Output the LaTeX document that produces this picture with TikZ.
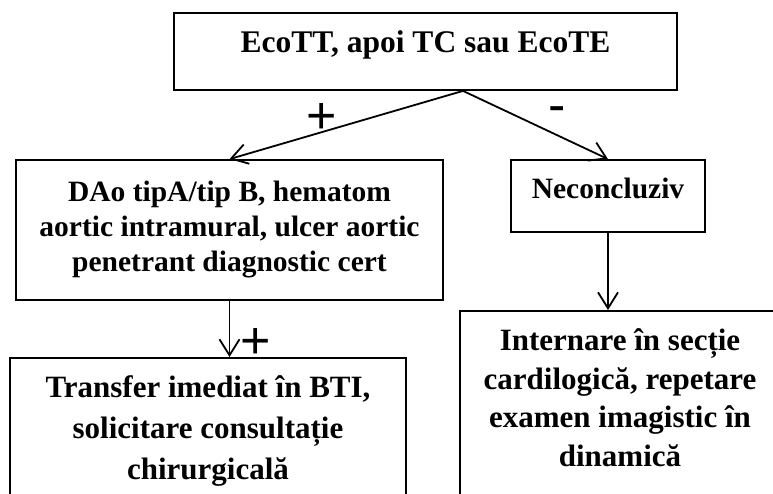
\documentclass[tikz,border=0pt]{standalone}
\usepackage{fontspec}
\setmainfont{Liberation Serif}
\newfontfamily\signfont{Liberation Sans}
\usetikzlibrary{arrows.meta}

\begin{document}
\begin{tikzpicture}[x=1pt,y=-1pt]
\tikzstyle{box}=[draw,line width=1.8pt,inner sep=0pt]
\tikzstyle{arr}=[line width=1.8pt,-{Straight Barb[length=16pt,width=20pt]}]
\tikzstyle{sign}=[inner sep=0pt,font=\signfont\fontsize{52}{52}\selectfont]
\useasboundingbox (0,0) rectangle (773,493);
\clip (0,0) rectangle (773,493);
\node[box,minimum width=503pt,text height=39pt,text depth=38pt,font=\fontsize{31.5}{36}\selectfont\bfseries] (eco) at (425.5,51.5) {EcoTT, apoi TC sau EcoTE};
\node[box,minimum width=427pt,minimum height=140pt,align=center,font=\fontsize{29.5}{35}\selectfont\bfseries] (dao) at (229.5,230) {DAo tipA/tip B, hematom\\aortic intramural, ulcer aortic\\penetrant diagnostic cert};
\node[box,minimum width=194pt,text height=38pt,text depth=34pt,font=\fontsize{29.5}{35}\selectfont\bfseries] (necon) at (608,196) {Neconcluziv};
\node[box,anchor=north,minimum width=396pt,inner ysep=11.3pt,text depth=200pt,font=\fontsize{31}{41}\selectfont\bfseries] (transfer) at (208,357)
  {\begin{tabular}[t]{@{}c@{}}Transfer imediat în BTI,\\solicitare consultație\\chirurgicală\end{tabular}};
\node[box,anchor=north,minimum width=320pt,inner ysep=13pt,text depth=200pt,font=\fontsize{31}{38.5}\selectfont\bfseries] (internare) at (620,310)
  {\begin{tabular}[t]{@{}c@{}}Internare în secție\\cardilogică, repetare\\examen imagistic în\\dinamică\end{tabular}};
\coordinate (fork) at ([xshift=37.5pt]eco.south);
\draw[arr] (fork) -- (dao.north);
\draw[arr] (fork) -- (necon.north);
\draw[arr] (dao.south) -- (dao.south |- transfer.north);
\draw[arr] (necon.south) -- (necon.south |- internare.north);
\node[sign] (plusa) at (322,118) {+};
\node[sign] (minus) at (557,115) {-};
\node[sign] (plusb) at (256,343) {+};
\end{tikzpicture}
\end{document}
